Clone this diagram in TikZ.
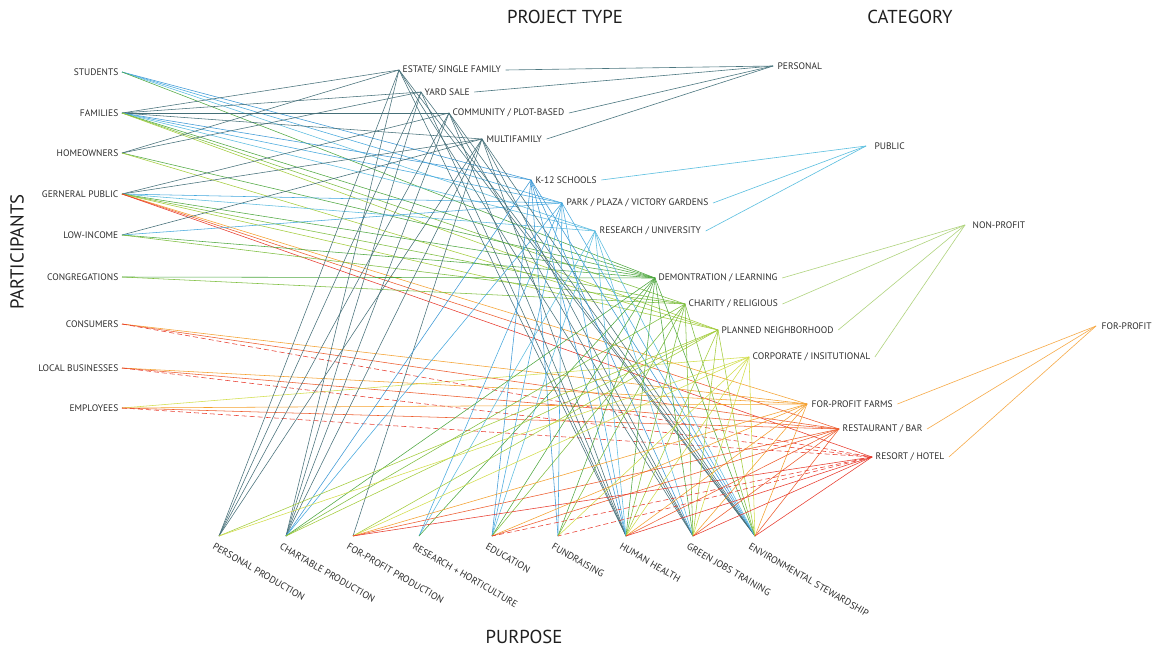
\documentclass[tikz,border=0pt]{standalone}
\usepackage{fontspec}
\setmainfont{PT Sans}
\definecolor{cdark}{HTML}{456F78}
\definecolor{cblueA}{HTML}{3B98D6}
\definecolor{cblueB}{HTML}{45A8DE}
\definecolor{cblueC}{HTML}{5BBCE0}
\definecolor{cgreenA}{HTML}{4FA840}
\definecolor{cgreenB}{HTML}{7DBE3E}
\definecolor{cgreenC}{HTML}{A3CC3A}
\definecolor{cyel}{HTML}{D2DE4A}
\definecolor{corange}{HTML}{F5A02E}
\definecolor{credA}{HTML}{EE5B2C}
\definecolor{credB}{HTML}{E8392C}
\definecolor{catPers}{HTML}{4C7780}
\definecolor{catPub}{HTML}{5BBFE0}
\definecolor{catNon}{HTML}{B0D47E}
\definecolor{catFor}{HTML}{F7AA48}
\colorlet{colpE}{cdark}
\colorlet{colpY}{cdark}
\colorlet{colpC}{cdark}
\colorlet{colpM}{cdark}
\colorlet{colpK}{cblueA}
\colorlet{colpP}{cblueB}
\colorlet{colpR}{cblueC}
\colorlet{colpD}{cgreenA}
\colorlet{colpH}{cgreenB}
\colorlet{colpN}{cgreenC}
\colorlet{colpO}{cyel}
\colorlet{colpF}{corange}
\colorlet{colpB}{credA}
\colorlet{colpT}{credB}
\tikzset{
  lbl/.style={font=\fontsize{9.5}{11}\selectfont, text=black!82, inner sep=1.5bp},
  plbl/.style={font=\fontsize{9.7}{11}\selectfont, text=black!82, inner sep=1bp},
  ttl/.style={font=\fontsize{18.8}{22}\selectfont, text=black!88, inner sep=0pt},
  link/.style={line width=0.55bp},
  catlink/.style={line width=0.6bp}
}
\begin{document}
\begin{tikzpicture}[x=1bp,y=-1bp]
\useasboundingbox[fill=white] (0,0) rectangle (1163,652);

% titles
\node[ttl] (tPT) at (565,17) {PROJECT TYPE};
\node[ttl] (tCA) at (910,17) {CATEGORY};
\node[ttl, rotate=90] (tPA) at (17,252) {PARTICIPANTS};
\node[ttl] (tPU) at (524,637) {PURPOSE};

% participants
\foreach \n/\y/\t in {aSt/72/STUDENTS, aFa/113/FAMILIES, aHo/153/HOMEOWNERS,
  aGp/194/GERNERAL PUBLIC, aLi/235/LOW-INCOME, aCo/277/CONGREGATIONS,
  aCn/324/CONSUMERS, aLb/368/LOCAL BUSINESSES, aEm/408/EMPLOYEES}{
  \coordinate (\n) at (122,\y);
  \node[lbl, anchor=east] (l\n) at (120,\y) {\t};
}

% project types
\coordinate (pE) at (399,70);
\coordinate (pY) at (421,92);
\coordinate (pC) at (449,113);
\coordinate (pM) at (482,139);
\coordinate (pK) at (531,180);
\coordinate (pP) at (562,203);
\coordinate (pR) at (595,231);
\coordinate (pD) at (655,278);
\coordinate (pH) at (685,304);
\coordinate (pN) at (718,330);
\coordinate (pO) at (749,357);
\coordinate (pF) at (807,404);
\coordinate (pB) at (839,429);
\coordinate (pT) at (872,457);
\node[lbl, anchor=west] (lpE) at ([xshift=2bp]pE) {ESTATE/ SINGLE FAMILY};
\node[lbl, anchor=west] (lpY) at ([xshift=2bp]pY) {YARD SALE};
\node[lbl, anchor=west] (lpC) at ([xshift=2bp]pC) {COMMUNITY / PLOT-BASED};
\node[lbl, anchor=west] (lpM) at ([xshift=3bp]pM) {MULTIFAMILY};
\node[lbl, anchor=west] (lpK) at ([xshift=3bp]pK) {K-12 SCHOOLS};
\node[lbl, anchor=west] (lpP) at ([xshift=3bp]pP) {PARK / PLAZA / VICTORY GARDENS};
\node[lbl, anchor=west] (lpR) at ([xshift=3bp]pR) {RESEARCH / UNIVERSITY};
\node[lbl, anchor=west] (lpD) at ([xshift=2bp]pD) {DEMONTRATION / LEARNING};
\node[lbl, anchor=west] (lpH) at ([xshift=2bp]pH) {CHARITY / RELIGIOUS};
\node[lbl, anchor=west] (lpN) at ([xshift=2bp]pN) {PLANNED NEIGHBORHOOD};
\node[lbl, anchor=west] (lpO) at ([xshift=2bp]pO) {CORPORATE / INSITUTIONAL};
\node[lbl, anchor=west] (lpF) at ([xshift=3bp]pF) {FOR-PROFIT FARMS};
\node[lbl, anchor=west] (lpB) at ([xshift=2bp]pB) {RESTAURANT / BAR};
\node[lbl, anchor=west] (lpT) at ([xshift=2bp]pT) {RESORT / HOTEL};

% categories
\coordinate (cPe) at (773,66);
\coordinate (cPu) at (866,146);
\coordinate (cNo) at (965,225);
\coordinate (cFo) at (1096,326);
\node[lbl, anchor=west] (lcPe) at ([xshift=3bp]cPe) {PERSONAL};
\node[lbl, anchor=west] (lcPu) at ([xshift=7bp]cPu) {PUBLIC};
\node[lbl, anchor=west] (lcNo) at ([xshift=6bp]cNo) {NON-PROFIT};
\node[lbl, anchor=west] (lcFo) at ([xshift=4bp]cFo) {FOR-PROFIT};

% purposes
\foreach \n/\x/\t in {uPP/219/PERSONAL PRODUCTION, uCP/286/CHARTABLE PRODUCTION,
  uFP/353/FOR-PROFIT PRODUCTION, uRH/419/RESEARCH + HORTICULTURE,
  uEd/492/EDUCATION, uFu/558/FUNDRAISING, uHH/626/HUMAN HEALTH,
  uGJ/693/GREEN JOBS TRAINING, uES/755/ENVIRONMENTAL STEWARDSHIP}{
  \coordinate (\n) at (\x,536);
  \node[plbl, anchor=north west, rotate=-30] (l\n) at (\x-4,541) {\t};
}

% project type -> category
\foreach \p/\c in {pE/cPe, pY/cPe, pC/cPe, pM/cPe}
  \draw[catlink, catPers] ([xshift=3bp]l\p.east) -- (\c);
\foreach \p/\c in {pK/cPu, pP/cPu, pR/cPu}
  \draw[catlink, catPub] ([xshift=3bp]l\p.east) -- (\c);
\foreach \p/\c in {pD/cNo, pH/cNo, pN/cNo, pO/cNo}
  \draw[catlink, catNon] ([xshift=3bp]l\p.east) -- (\c);
\foreach \p/\c in {pF/cFo, pB/cFo, pT/cFo}
  \draw[catlink, catFor] ([xshift=3bp]l\p.east) -- (\c);

% participants -> project types
\foreach \a/\p in {aSt/pK, aSt/pP, aSt/pR, aSt/pD,
  aFa/pE, aFa/pY, aFa/pC, aFa/pM, aFa/pK, aFa/pP, aFa/pR, aFa/pD, aFa/pH, aFa/pN,
  aHo/pE, aHo/pY, aHo/pD, aHo/pN,
  aGp/pC, aGp/pM, aGp/pP, aGp/pR, aGp/pD, aGp/pH, aGp/pN, aGp/pF, aGp/pB, aGp/pT,
  aLi/pM, aLi/pP, aLi/pD, aLi/pH,
  aCo/pD, aCo/pH,
  aCn/pF, aCn/pB,
  aLb/pF, aLb/pB,
  aEm/pO, aEm/pF, aEm/pB}
  \draw[link, col\p] (\a) -- (\p);
\foreach \a/\p in {aCn/pT, aLb/pT, aEm/pT}
  \draw[link, col\p, dashed, dash pattern=on 5bp off 3bp] (\a) -- (\p);

% project types -> purposes
\foreach \p/\u in {pE/uPP, pE/uCP, pE/uHH, pE/uGJ, pE/uES,
  pY/uPP, pY/uCP, pY/uHH, pY/uES,
  pC/uPP, pC/uCP, pC/uHH, pC/uGJ, pC/uES,
  pM/uPP, pM/uCP, pM/uFP, pM/uHH, pM/uGJ, pM/uES,
  pK/uCP, pK/uEd, pK/uFu, pK/uHH, pK/uGJ, pK/uES,
  pP/uCP, pP/uRH, pP/uEd, pP/uFu, pP/uHH, pP/uES,
  pR/uRH, pR/uEd, pR/uHH, pR/uGJ, pR/uES,
  pD/uCP, pD/uRH, pD/uEd, pD/uFu, pD/uHH, pD/uGJ, pD/uES,
  pH/uCP, pH/uEd, pH/uFu, pH/uHH, pH/uGJ, pH/uES,
  pN/uPP, pN/uCP, pN/uFP, pN/uHH, pN/uGJ, pN/uES,
  pO/uPP, pO/uFP, pO/uFu, pO/uHH, pO/uGJ, pO/uES,
  pF/uFP, pF/uEd, pF/uHH, pF/uGJ, pF/uES,
  pB/uFP, pB/uEd, pB/uHH, pB/uGJ, pB/uES,
  pT/uFP, pT/uHH, pT/uGJ, pT/uES}
  \draw[link, col\p] (\p) -- (\u);
\foreach \p/\u in {pT/uEd, pT/uFu}
  \draw[link, col\p, dashed, dash pattern=on 5bp off 3bp] (\p) -- (\u);
\end{tikzpicture}
\end{document}
